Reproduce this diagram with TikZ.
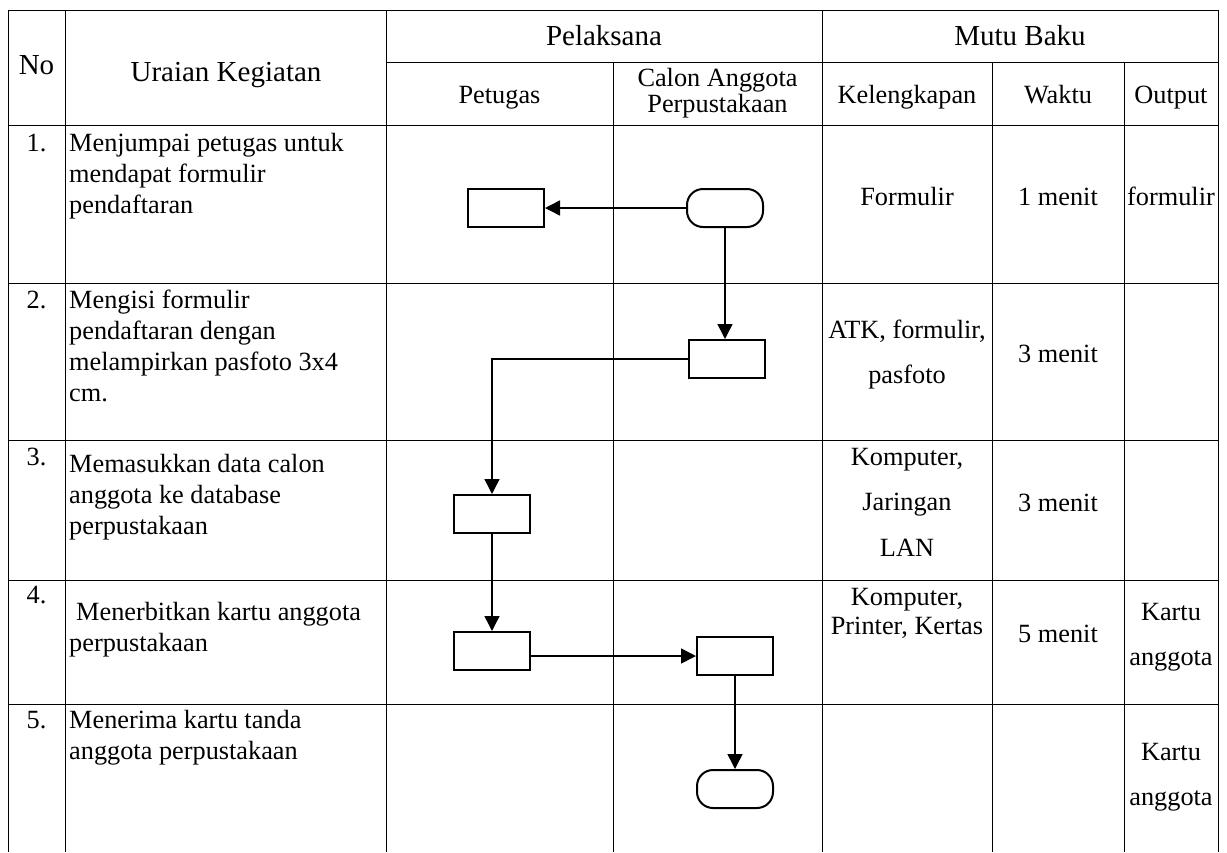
\documentclass[tikz,border=0pt]{standalone}
\usepackage{fontspec}
\setmainfont{Liberation Serif}
\usetikzlibrary{arrows.meta}

\begin{document}
\begin{tikzpicture}[x=1pt,y=-1pt,
		grid/.style={line width=1pt},
		head/.style={inner sep=0pt,anchor=base,font=\fontsize{29}{31}\selectfont},
		cell/.style={inner sep=0pt,anchor=base,align=center,font=\fontsize{26.3}{29}\selectfont},
		roomy/.style={cell,font=\fontsize{26.3}{45.5}\selectfont},
		desc/.style={inner sep=0pt,anchor=base west,align=left,font=\fontsize{26.3}{31}\selectfont},
		box/.style={draw,line width=2pt,minimum width=76pt,minimum height=38pt,inner sep=0pt},
		term/.style={box,rounded corners=16pt},
		flow/.style={line width=1.5pt,-{Triangle[length=15pt,width=15pt]}}]
		\useasboundingbox (0,0) rectangle (1227,852);
		% table lines
		\draw[grid] (8,10) -- (1218,10);
		\draw[grid] (386,62) -- (1218,62);
		\draw[grid] (8,125) -- (1218,125) (8,283) -- (1218,283) (8,440) -- (1218,440)
			(8,580) -- (1218,580) (8,704) -- (1218,704);
		\draw[grid] (8,10) -- (8,852) (65,10) -- (65,852) (386,10) -- (386,852)
			(822,10) -- (822,852) (1218,10) -- (1218,852);
		\draw[grid] (613,62) -- (613,852) (992,62) -- (992,852) (1124,62) -- (1124,852);
		% header (multi-line texts sit on their last baseline)
		\node [head] (hno) at (36.5,74) {No};
		\node [head] (huraian) at (226,81) {Uraian Kegiatan};
		\node [head] (hpelaksana) at (604,45) {Pelaksana};
		\node [head] (hmutu) at (1020,45) {Mutu Baku};
		\node [cell] (hpetugas) at (499.5,103) {Petugas};
		\node [cell,font=\fontsize{26.3}{26}\selectfont] (hcalon) at (717.5,112) {Calon Anggota\\Perpustakaan};
		\node [cell] (hlengkap) at (907,103) {Kelengkapan};
		\node [cell] (hwaktu) at (1058,103) {Waktu};
		\node [cell] (houtput) at (1171,103) {Output};
		% rows
		\node [cell] (no1) at (36.5,151) {1.};
		\node [desc] (uraian1) at (69,213) {Menjumpai petugas untuk\\mendapat formulir\\pendaftaran};
		\node [cell] (lengkap1) at (907,205) {Formulir};
		\node [cell] (waktu1) at (1058,205) {1 menit};
		\node [cell] (output1) at (1171,205) {formulir};
		\node [cell] (no2) at (36.5,308) {2.};
		\node [desc] (uraian2) at (69,401) {Mengisi formulir\\pendaftaran dengan\\melampirkan pasfoto 3x4\\cm.};
		\node [roomy] (lengkap2) at (907,383.5) {ATK, formulir,\\pasfoto};
		\node [cell] (waktu2) at (1058,362) {3 menit};
		\node [cell] (no3) at (36.5,465) {3.};
		\node [desc] (uraian3) at (69,534) {Memasukkan data calon\\anggota ke database\\perpustakaan};
		\node [roomy] (lengkap3) at (907,556) {Komputer,\\Jaringan\\LAN};
		\node [cell] (waktu3) at (1058,511) {3 menit};
		\node [cell] (no4) at (36.5,603) {4.};
		\node [desc] (uraian4) at (69,651) {\hspace*{7pt}Menerbitkan kartu anggota\\perpustakaan};
		\node [cell] (lengkap4) at (907,634) {Komputer,\\Printer, Kertas};
		\node [cell] (waktu4) at (1058,642) {5 menit};
		\node [roomy] (output4) at (1171,665.5) {Kartu\\anggota};
		\node [cell] (no5) at (36.5,728) {5.};
		\node [desc] (uraian5) at (69,759) {Menerima kartu tanda\\anggota perpustakaan};
		\node [roomy] (output5) at (1171,805.5) {Kartu\\anggota};
		% flow
		\node [term] (calon1) at (725,208) {};
		\node [box] (petugas1) at (506,208) {};
		\node [box] (calon2) at (727,359) {};
		\node [box] (petugas3) at (492,514) {};
		\node [box] (petugas4) at (492,651) {};
		\node [box] (calon4) at (735,656) {};
		\node [term] (calon5) at (735,789) {};
		\draw [flow] (calon1.west) -- (petugas1.east);
		\draw [flow] (calon1.south) -- (calon1.south |- calon2.north);
		\draw [flow] (calon2.west) -| (petugas3.north);
		\draw [flow] (petugas3.south) -- (petugas4.north);
		\draw [flow] (petugas4.east |- calon4.west) -- (calon4.west);
		\draw [flow] (calon4.south) -- (calon5.north);
	\end{tikzpicture}
\end{document}
